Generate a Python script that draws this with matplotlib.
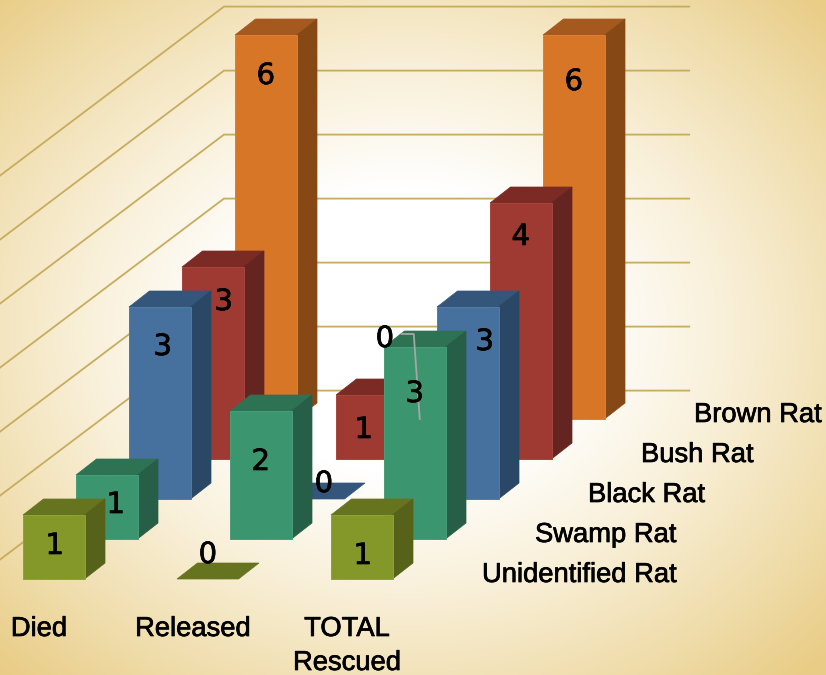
# -*- coding: utf-8 -*-
"""
3D-style clustered bars of rat rescue counts, drawn on a flat axes
with an oblique projection.
"""

# importing libraries
import numpy as np
import matplotlib.pyplot as plt
import matplotlib.patheffects as pe
from matplotlib.colors import LinearSegmentedColormap
from matplotlib.patches import Polygon

# Categories along the front, series going back into the chart
outcomes = ['Died', 'Released', 'TOTAL\nRescued']
rats = ['Unidentified Rat', 'Swamp Rat', 'Black Rat', 'Bush Rat', 'Brown Rat']

died = [1, 1, 3, 3, 6]
released = [0, 2, 0, 1, 0]
total = [1, 3, 3, 4, 6]

value_ticks = [0, 1, 2, 3, 4, 5, 6]

# Front, top and side shades for each series
front_colors = ['#84982A', '#3B9670', '#46709E', '#9E3A32', '#D87628']
top_colors = ['#667420', '#2E7254', '#33567A', '#7B2A24', '#A5591E']
side_colors = ['#56611A', '#275E47', '#2A4765', '#642420', '#864916']
edge_colors = ['#8FA238', '#479E7A', '#527BA6', '#A5463E', '#DB7F38']

# Projection settings, all in pixels
W, H = 826, 675
ORIGIN_X, ORIGIN_Y = 23, 579
CAT_STEP = 154
SERIES_DX, SERIES_DY = 53, 40
UNIT = 64
BAR_W = 61.5
DEPTH_DX, DEPTH_DY = 20.5, 16


def project(cat, series, value):
    """ Turns category, series and value positions into flat axes coordinates. """
    x = ORIGIN_X + cat * CAT_STEP + series * SERIES_DX
    y = ORIGIN_Y - series * SERIES_DY - value * UNIT
    return x, y


def draw_bar(ax, cat, series, value):
    """ Draws one bar; a zero value only leaves its flat top face. """
    x0, y0 = project(cat, series, 0)
    x1, y1 = project(cat, series, value)
    edge = edge_colors[series]

    # top face
    top = [(x0, y1), (x0 + BAR_W, y1), (x0 + BAR_W + DEPTH_DX, y1 - DEPTH_DY),
           (x0 + DEPTH_DX, y1 - DEPTH_DY)]
    ax.add_patch(Polygon(top, closed=True, facecolor=top_colors[series],
                         edgecolor=top_colors[series], lw=0.5, zorder=3))
    if value == 0:
        return

    # side face
    side = [(x0 + BAR_W, y0), (x0 + BAR_W + DEPTH_DX, y0 - DEPTH_DY),
            (x0 + BAR_W + DEPTH_DX, y1 - DEPTH_DY), (x0 + BAR_W, y1)]
    ax.add_patch(Polygon(side, closed=True, facecolor=side_colors[series],
                         edgecolor=side_colors[series], lw=0.5, zorder=3))

    # front face
    front = [(x0, y0), (x0 + BAR_W, y0), (x0 + BAR_W, y1), (x0, y1)]
    ax.add_patch(Polygon(front, closed=True, facecolor=front_colors[series],
                         edgecolor=edge, lw=0.7, zorder=3))


def draw_background(ax):
    """ Soft white centre fading out to tan in the corners. """
    cmap = LinearSegmentedColormap.from_list(
        'paper', [(0, '#FFFFFF'), (0.3, '#FFFFFF'), (0.55, '#F9F0D9'),
                  (0.8, '#F0DDAC'), (1, '#E9CC85')])
    xx, yy = np.meshgrid(np.linspace(-1, 1, W), np.linspace(-1, 1, H))
    dist = np.sqrt(((xx + 0.02) ** 2 + (yy + 0.02) ** 2) / 2)
    ax.imshow(dist, cmap=cmap, vmin=0, vmax=1, extent=(0, W, H, 0),
              aspect='auto', zorder=0, interpolation='bilinear')


def draw_grid(ax):
    """ Gridlines along the back wall and the left wall. """
    wall_cat, wall_series = -0.316, 4.71
    for tick in value_ticks:
        left = project(wall_cat, wall_series, tick)
        right = project(2.705, wall_series, tick)
        front = project(wall_cat, -0.5, tick)
        ax.plot([front[0], left[0], right[0]], [front[1], left[1], right[1]],
                color='#C8AC5E', lw=1.3, zorder=1, solid_joinstyle='miter')


# Label offsets from the top centre of each bar's front face
label_offsets = {
    (0, 0): (1, 31), (0, 1): (9, 30), (0, 2): (3, 40), (0, 3): (11, 35),
    (0, 4): (0, 41),
    (1, 0): (0, -24), (1, 1): (0, 51), (1, 2): (10, -15), (1, 3): (-3, 35),
    (1, 4): (-35, -80),
    (2, 0): (1, 41), (2, 1): (0, 47), (2, 2): (17, 35), (2, 3): (0, 34),
    (2, 4): (0, 47),
}

fig = plt.figure(figsize=(W / 100, H / 100), dpi=100)
ax = fig.add_axes([0, 0, 1, 1])

draw_background(ax)
draw_grid(ax)

# Draw from the back row to the front row so nearer bars cover farther ones
table = [died, released, total]
for s in range(len(rats) - 1, -1, -1):
    for c in range(len(outcomes)):
        draw_bar(ax, c, s, table[c][s])

# Slight stroke so the thin labels carry more weight
heavy = [pe.withStroke(linewidth=0.5, foreground='black')]

# Data labels
for c in range(len(outcomes)):
    for s in range(len(rats)):
        value = table[c][s]
        x, y = project(c, s, value)
        dx, dy = label_offsets[(c, s)]
        ax.text(x + BAR_W / 2 + dx, y + dy, str(value), ha='center',
                va='center', fontsize=21, family='DejaVu Sans',
                color='black', zorder=6, path_effects=heavy)

# Leader line for the hidden zero bar at the back of the Released group
lx, ly = project(1, 4, 0)
lx = lx + BAR_W / 2
ax.plot([lx - 18, lx - 6, lx], [ly - 85, ly - 85, ly], color='#A6A6A6',
        lw=1.3, zorder=5)

# Category labels under the front row
for c, name in enumerate(outcomes):
    x, y = project(c, 0, 0)
    ax.text(x + 16, 616, name, ha='center', va='top', fontsize=19.7,
            family='Liberation Sans', color='black', linespacing=1.4,
            zorder=6, path_effects=heavy)

# Series labels stepping back along the right side
for s, name in enumerate(rats):
    x, y = project(0, s, 0)
    ax.text(x + 459, y - 4, name, ha='left', va='center', fontsize=19.7,
            family='Liberation Sans', color='black', zorder=6,
            path_effects=heavy)

ax.set_xlim(0, W)
ax.set_ylim(H, 0)
ax.axis('off')

# save the figure
plt.savefig('out.png', dpi=100)
